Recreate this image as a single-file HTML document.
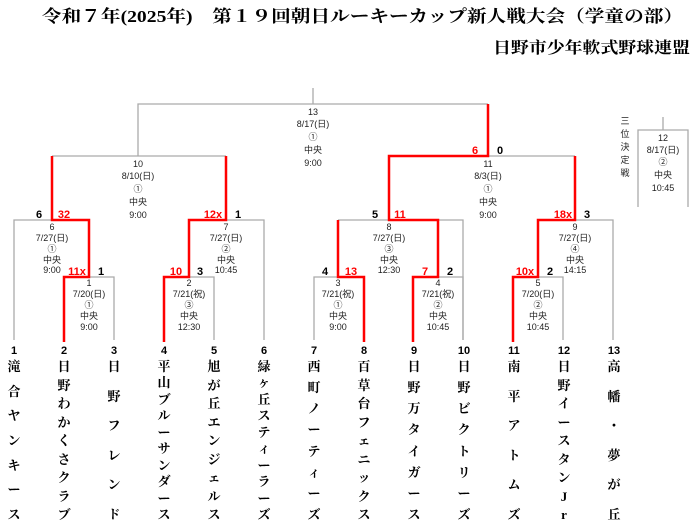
<!DOCTYPE html>
<html><head><meta charset="utf-8"><style>
html,body{margin:0;padding:0;background:#fff;}
body{position:relative;width:700px;height:532px;overflow:hidden;}
svg{display:block;position:absolute;left:0;top:0;}
.t{font-family:"Liberation Serif","Noto Serif CJK SC",serif;font-weight:bold;}
.m{font-family:"Liberation Sans","Noto Sans CJK JP",sans-serif;font-size:9px;fill:#222;text-anchor:middle;}
.s{font-family:"Liberation Sans",sans-serif;font-weight:bold;font-size:11px;text-anchor:middle;}
.r{fill:#f00;}
.num{position:absolute;top:345px;width:30px;margin-left:-15px;text-align:center;font:bold 11px "Liberation Sans",sans-serif;}
.tm{position:absolute;top:360px;height:162px;width:20px;margin-left:-10px;display:flex;flex-direction:column;justify-content:space-between;align-items:center;font:bold 13px/14px "Liberation Serif","Noto Serif CJK SC",serif;}
</style></head><body>
<svg width="700" height="532" viewBox="0 0 700 532" xmlns="http://www.w3.org/2000/svg">
<text class="t" x="42" y="22" font-size="17" textLength="641" lengthAdjust="spacingAndGlyphs">令和７年(2025年)　第１９回朝日ルーキーカップ新人戦大会（学童の部）</text>
<text class="t" x="493" y="53" font-size="16" textLength="197" lengthAdjust="spacingAndGlyphs">日野市少年軟式野球連盟</text>

<g stroke="#aaa" stroke-width="1.3" fill="none">
<path d="M313 88V104M138 156V104H488M52 156H226M488 156H575"/>
<path d="M14 340V220H52M226 220H264V340M338 220H389M438 220H463V340M575 220H613V340"/>
<path d="M89 277H114V340M189 277H214V340M314 340V277H338M438 277H463V340M538 277H563V340"/>
<path d="M663 117V130M638 207V130H688V207"/>
</g>
<g stroke="#f00" stroke-width="2.5" fill="none">
<path d="M52 156V220H89V277H64V342"/>
<path d="M226 156V220H189V277H164V342"/>
<path d="M488 104V156H389V220H438V277H413V342"/>
<path d="M338 220V277H364V342"/>
<path d="M575 156V220H538V277H513V342"/>
</g>

<g class="m">
<text x="313" y="115">13</text><text x="313" y="127">8/17(日)</text><text x="313" y="140">①</text><text x="313" y="153">中央</text><text x="313" y="166">9:00</text>
<text x="138" y="167">10</text><text x="138" y="179">8/10(日)</text><text x="138" y="192">①</text><text x="138" y="205">中央</text><text x="138" y="218">9:00</text>
<text x="488" y="167">11</text><text x="488" y="179">8/3(日)</text><text x="488" y="192">①</text><text x="488" y="205">中央</text><text x="488" y="218">9:00</text>
<text x="663" y="141">12</text><text x="663" y="153">8/17(日)</text><text x="663" y="165">②</text><text x="663" y="178">中央</text><text x="663" y="191">10:45</text>
<text x="52" y="230">6</text><text x="52" y="241">7/27(日)</text><text x="52" y="252">①</text><text x="52" y="263">中央</text><text x="52" y="273">9:00</text>
<text x="226" y="230">7</text><text x="226" y="241">7/27(日)</text><text x="226" y="252">②</text><text x="226" y="263">中央</text><text x="226" y="273">10:45</text>
<text x="389" y="230">8</text><text x="389" y="241">7/27(日)</text><text x="389" y="252">③</text><text x="389" y="263">中央</text><text x="389" y="273">12:30</text>
<text x="575" y="230">9</text><text x="575" y="241">7/27(日)</text><text x="575" y="252">④</text><text x="575" y="263">中央</text><text x="575" y="273">14:15</text>
<text x="89" y="286">1</text><text x="89" y="297">7/20(日)</text><text x="89" y="308">①</text><text x="89" y="319">中央</text><text x="89" y="330">9:00</text>
<text x="189" y="286">2</text><text x="189" y="297">7/21(祝)</text><text x="189" y="308">③</text><text x="189" y="319">中央</text><text x="189" y="330">12:30</text>
<text x="338" y="286">3</text><text x="338" y="297">7/21(祝)</text><text x="338" y="308">①</text><text x="338" y="319">中央</text><text x="338" y="330">9:00</text>
<text x="438" y="286">4</text><text x="438" y="297">7/21(祝)</text><text x="438" y="308">②</text><text x="438" y="319">中央</text><text x="438" y="330">10:45</text>
<text x="538" y="286">5</text><text x="538" y="297">7/20(日)</text><text x="538" y="308">②</text><text x="538" y="319">中央</text><text x="538" y="330">10:45</text>
</g>
<g class="m" font-size="11"><text x="625" y="124">三</text><text x="625" y="137">位</text><text x="625" y="150">決</text><text x="625" y="163">定</text><text x="625" y="176">戦</text></g>

<g class="s">
<text x="39" y="218">6</text><text class="r" x="64" y="218">32</text>
<text class="r" x="213" y="218">12x</text><text x="238" y="218">1</text>
<text class="r" x="77" y="275">11x</text><text x="101" y="275">1</text>
<text class="r" x="176" y="275">10</text><text x="200" y="275">3</text>
<text x="325" y="275">4</text><text class="r" x="351" y="275">13</text>
<text class="r" x="425" y="275">7</text><text x="450" y="275">2</text>
<text class="r" x="525" y="275">10x</text><text x="550" y="275">2</text>
<text x="375" y="218">5</text><text class="r" x="400" y="218">11</text>
<text class="r" x="563" y="218">18x</text><text x="587" y="218">3</text>
<text class="r" x="475" y="154">6</text><text x="500" y="154">0</text>
</g>
</svg>

<div class="num" style="left:14px">1</div><div class="tm" style="left:14px"><span>滝</span><span>合</span><span>ヤ</span><span>ン</span><span>キ</span><span>ー</span><span>ス</span></div>
<div class="num" style="left:64px">2</div><div class="tm" style="left:64px"><span>日</span><span>野</span><span>わ</span><span>か</span><span>く</span><span>さ</span><span>ク</span><span>ラ</span><span>ブ</span></div>
<div class="num" style="left:114px">3</div><div class="tm" style="left:114px"><span>日</span><span>野</span><span>フ</span><span>レ</span><span>ン</span><span>ド</span></div>
<div class="num" style="left:164px">4</div><div class="tm" style="left:164px"><span>平</span><span>山</span><span>ブ</span><span>ル</span><span>ー</span><span>サ</span><span>ン</span><span>ダ</span><span>ー</span><span>ス</span></div>
<div class="num" style="left:214px">5</div><div class="tm" style="left:214px"><span>旭</span><span>が</span><span>丘</span><span>エ</span><span>ン</span><span>ジ</span><span>ェ</span><span>ル</span><span>ス</span></div>
<div class="num" style="left:264px">6</div><div class="tm" style="left:264px"><span>緑</span><span>ヶ</span><span>丘</span><span>ス</span><span>テ</span><span>ィ</span><span>ー</span><span>ラ</span><span>ー</span><span>ズ</span></div>
<div class="num" style="left:314px">7</div><div class="tm" style="left:314px"><span>西</span><span>町</span><span>ノ</span><span>ー</span><span>テ</span><span>ィ</span><span>ー</span><span>ズ</span></div>
<div class="num" style="left:364px">8</div><div class="tm" style="left:364px"><span>百</span><span>草</span><span>台</span><span>フ</span><span>ェ</span><span>ニ</span><span>ッ</span><span>ク</span><span>ス</span></div>
<div class="num" style="left:414px">9</div><div class="tm" style="left:414px"><span>日</span><span>野</span><span>万</span><span>タ</span><span>イ</span><span>ガ</span><span>ー</span><span>ス</span></div>
<div class="num" style="left:464px">10</div><div class="tm" style="left:464px"><span>日</span><span>野</span><span>ビ</span><span>ク</span><span>ト</span><span>リ</span><span>ー</span><span>ズ</span></div>
<div class="num" style="left:514px">11</div><div class="tm" style="left:514px"><span>南</span><span>平</span><span>ア</span><span>ト</span><span>ム</span><span>ズ</span></div>
<div class="num" style="left:564px">12</div><div class="tm" style="left:564px"><span>日</span><span>野</span><span>イ</span><span>ー</span><span>ス</span><span>タ</span><span>ン</span><span>J</span><span>r</span></div>
<div class="num" style="left:614px">13</div><div class="tm" style="left:614px"><span>高</span><span>幡</span><span>・</span><span>夢</span><span>が</span><span>丘</span></div>
</body></html>
